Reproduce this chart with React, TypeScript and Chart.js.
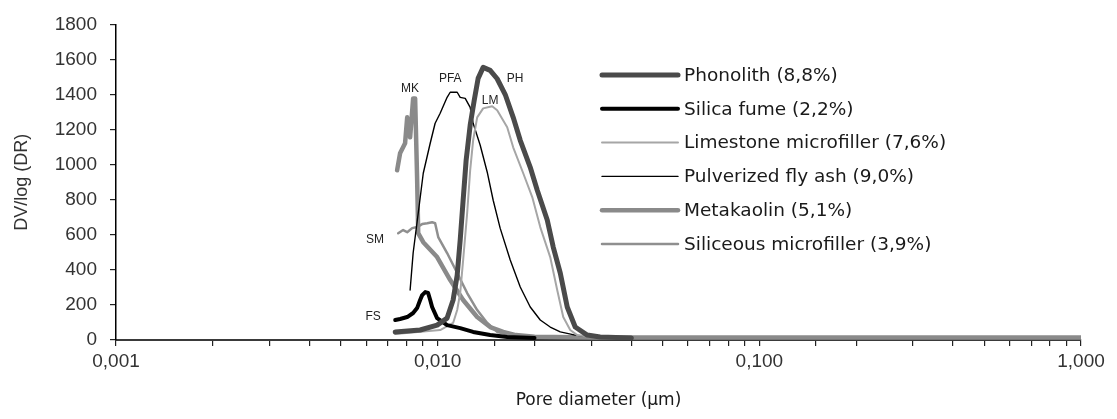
import React, { useEffect, useRef } from 'react';
import { Chart, registerables } from 'chart.js';
Chart.register(...registerables);

// ---- data (pore diameter in µm, DV/log(DR)) ----
const seriesNames = [
  'Phonolith (8,8%)',
  'Silica fume (2,2%)',
  'Limestone microfiller (7,6%)',
  'Pulverized fly ash (9,0%)',
  'Metakaolin (5,1%)',
  'Siliceous microfiller (3,9%)',
];

const phX = [0.00738, 0.00882, 0.00996, 0.0107, 0.01117, 0.0115, 0.01175, 0.012, 0.01226, 0.01262, 0.01299, 0.01336, 0.01385, 0.01456, 0.01531, 0.01622, 0.01717, 0.01806, 0.0194, 0.0204, 0.02191, 0.02287, 0.02405, 0.02528, 0.02677, 0.02917, 0.032, 0.04];
const phY = [46, 57, 85, 125, 228, 370, 570, 797, 1025, 1225, 1367, 1492, 1555, 1538, 1490, 1400, 1270, 1139, 985, 854, 684, 530, 382, 188, 74, 28, 17, 12];

const fsX = [0.00738, 0.00764, 0.00804, 0.00839, 0.00863, 0.00882, 0.00895, 0.00915, 0.00934, 0.00948, 0.00961, 0.00996, 0.0107, 0.01175, 0.01289, 0.01456, 0.01645, 0.02];
const fsY = [114, 120, 131, 154, 182, 228, 256, 273, 268, 228, 188, 125, 85, 68, 46, 28, 17, 12];

const lmX = [0.00738, 0.01018, 0.01117, 0.0115, 0.01175, 0.012, 0.01235, 0.01262, 0.01289, 0.01327, 0.01385, 0.01477, 0.01531, 0.01645, 0.01717, 0.01845, 0.01968, 0.02084, 0.02238, 0.02353, 0.02457, 0.02583, 0.02716, 0.03, 0.04];
const lmY = [34, 57, 97, 171, 268, 456, 723, 968, 1139, 1270, 1321, 1333, 1310, 1213, 1099, 951, 815, 644, 473, 285, 131, 57, 28, 17, 12];

const pfaX = [0.00821, 0.00839, 0.0087, 0.00902, 0.00948, 0.00982, 0.01018, 0.0107, 0.01094, 0.0115, 0.01175, 0.01218, 0.01262, 0.01289, 0.01356, 0.01426, 0.01488, 0.01564, 0.01681, 0.01806, 0.0194, 0.02084, 0.02238, 0.02405, 0.02677, 0.03, 0.035];
const pfaY = [285, 496, 723, 951, 1122, 1236, 1293, 1384, 1413, 1413, 1384, 1378, 1327, 1236, 1111, 957, 797, 638, 456, 302, 188, 114, 74, 46, 28, 18, 12];

const mkX = [0.00748, 0.00764, 0.00792, 0.00804, 0.00821, 0.00839, 0.00851, 0.00863, 0.0087, 0.00902, 0.00996, 0.01094, 0.012, 0.01327, 0.01456, 0.01598, 0.0175, 0.02, 0.03, 0.1, 0.3, 1.0];
const mkY = [968, 1065, 1122, 1270, 1156, 1378, 1378, 928, 609, 558, 473, 342, 228, 131, 74, 46, 28, 18, 14, 14, 14, 14];

const smX = [0.00754, 0.00781, 0.00804, 0.00833, 0.00863, 0.00895, 0.00928, 0.00961, 0.00982, 0.01004, 0.0107, 0.0115, 0.01235, 0.01327, 0.01426, 0.01531, 0.01681, 0.02, 0.03, 0.1, 1.0];
const smY = [609, 627, 615, 638, 644, 661, 666, 672, 666, 587, 496, 382, 268, 171, 97, 46, 28, 18, 13, 13, 13];

const seriesX = [phX, fsX, lmX, pfaX, mkX, smX];
const seriesY = [phY, fsY, lmY, pfaY, mkY, smY];

const curveLabels = ['MK', 'PFA', 'PH', 'LM', 'SM', 'FS'];
const curveLabelX = [0.00821, 0.01094, 0.01742, 0.01456, 0.00639, 0.0063];
const curveLabelY = [1435, 1492, 1492, 1367, 570, 131];

const xDecades = [0.001, 0.01, 0.1, 1];
const yMin = 0;
const yMax = 1800;
const yStep = 200;

// ---- styles ----
const lineColors = ['#4a4a4a', '#000000', '#a6a6a6', '#000000', '#8a8a8a', '#8f8f8f'];
const lineWidths = [5, 4, 2, 1.4, 4.5, 2.5];

const isDecade = (v: number) => xDecades.some((d) => Math.abs(v / d - 1) < 1e-6);

export default function App() {
  const ref = useRef<HTMLCanvasElement | null>(null);

  useEffect(() => {
    document.body.style.margin = '0';
    const canvas = ref.current;
    if (!canvas) return;

    const overlay = {
      id: 'overlay',
      afterDatasetsDraw(chart: any) {
        const ctx = chart.ctx;
        const xs = chart.scales.x;
        const ys = chart.scales.y;
        ctx.save();
        // curve labels
        ctx.font = '12px "Liberation Sans", Arial, sans-serif';
        ctx.fillStyle = '#222';
        ctx.textAlign = 'center';
        ctx.textBaseline = 'middle';
        curveLabels.forEach((t, i) => {
          ctx.fillText(t, xs.getPixelForValue(curveLabelX[i]), ys.getPixelForValue(curveLabelY[i]));
        });
        // legend
        const lx1 = 602, lx2 = 678, tx = 684, ry0 = 75, rstep = 33.8;
        ctx.font = '18.5px "DejaVu Sans", sans-serif';
        ctx.textAlign = 'left';
        seriesNames.forEach((name, i) => {
          const y = ry0 + i * rstep;
          ctx.beginPath();
          ctx.strokeStyle = lineColors[i];
          ctx.lineWidth = lineWidths[i];
          ctx.lineCap = 'round';
          ctx.moveTo(lx1, y);
          ctx.lineTo(lx2, y);
          ctx.stroke();
          ctx.fillStyle = '#1a1a1a';
          ctx.fillText(name, tx, y + 1);
        });
        ctx.restore();
      },
    };

    const chart = new Chart(canvas, {
      type: 'line',
      data: {
        datasets: seriesNames.map((name, i) => ({
          label: name,
          data: seriesX[i].map((x, j) => ({ x, y: seriesY[i][j] })),
          borderColor: lineColors[i],
          backgroundColor: lineColors[i],
          borderWidth: lineWidths[i],
          pointRadius: 0,
          tension: 0,
          fill: false,
          borderJoinStyle: 'round' as const,
          borderCapStyle: 'round' as const,
        })),
      },
      options: {
        responsive: false,
        animation: false,
        events: [],
        layout: { padding: { top: 24, right: 36, left: 0, bottom: 0 } },
        plugins: { legend: { display: false }, tooltip: { enabled: false } },
        scales: {
          x: {
            type: 'logarithmic',
            min: 0.001,
            max: 1,
            afterFit: (s: any) => { s.height = 79; },
            border: { display: true, color: '#3a3a3a', width: 2 },
            grid: { drawOnChartArea: false, drawTicks: true, tickLength: 6, color: '#222', lineWidth: 1.2 },
            ticks: {
              autoSkip: false,
              maxRotation: 0,
              padding: 4,
              color: '#333',
              font: { family: '"Liberation Sans", Arial, sans-serif', size: 19 },
              callback: (v: any) => (isDecade(Number(v)) ? Number(v).toFixed(3).replace('.', ',') : ''),
            },
            title: {
              display: true,
              text: 'Pore diameter (µm)',
              color: '#1a1a1a',
              font: { family: '"DejaVu Sans", sans-serif', size: 17 },
              padding: { top: 0, bottom: 8 },
            },
          },
          y: {
            type: 'linear',
            min: yMin,
            max: yMax,
            afterFit: (s: any) => { s.width = 116; },
            border: { display: true, color: '#000', width: 1.5 },
            grid: { drawOnChartArea: false, drawTicks: true, tickLength: 6, color: '#222', lineWidth: 1.2 },
            ticks: {
              stepSize: yStep,
              padding: 13,
              color: '#333',
              font: { family: '"Liberation Sans", Arial, sans-serif', size: 19 },
              callback: (v: any) => String(v),
            },
            title: {
              display: true,
              text: 'DV/log (DR)',
              color: '#333',
              font: { family: '"Liberation Sans", Arial, sans-serif', size: 18 },
              padding: { top: 11, bottom: 0 },
            },
          },
        },
      },
      plugins: [overlay],
    } as any);

    return () => chart.destroy();
  }, []);

  return (
    <div style={{ width: 1117, height: 419 }}>
      <canvas ref={ref} width={1117} height={419} style={{ display: 'block' }} />
    </div>
  );
}
